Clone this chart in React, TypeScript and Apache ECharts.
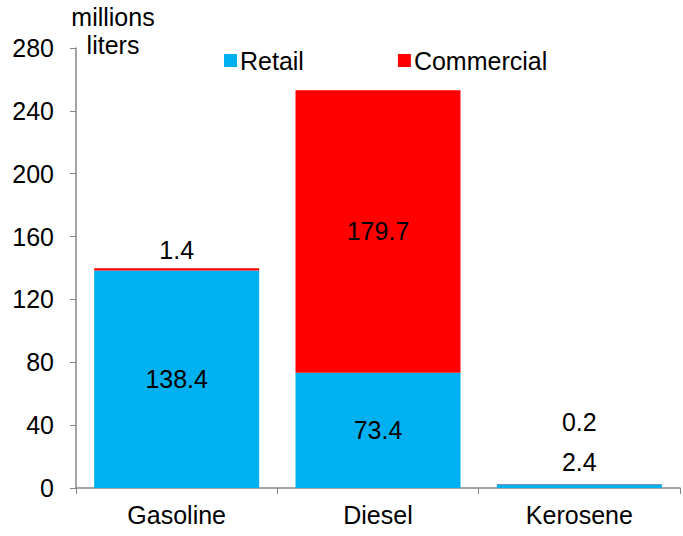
import React, { useEffect, useRef } from "react";
import * as echarts from "echarts";

const categories = ["Gasoline", "Diesel", "Kerosene"];
const retail = [138.4, 73.4, 2.4];
const commercial = [1.4, 179.7, 0.2];
const yTicks = { min: 0, max: 280, interval: 40 };
const yAxisTitle = "millions\nliters";

const FONT = "'Liberation Sans', Arial, sans-serif";
const FS = 25;

export default function App() {
  const ref = useRef<HTMLDivElement>(null);
  useEffect(() => {
    if (!ref.current) return;
    const chart = echarts.init(ref.current, null, { renderer: "svg" });
    const retailLabelPos = ["inside", "inside", "top"];
    const retailLabelDist = [5, 5, 10];
    const commLabelPos = ["top", "inside", "top"];
    const commLabelDist = [6, 5, 49];
    chart.setOption({
      animation: false,
      textStyle: { fontFamily: FONT },
      title: {
        text: yAxisTitle,
        left: 113,
        top: 3,
        padding: 0,
        textAlign: "center",
        textStyle: {
          fontSize: FS,
          fontWeight: "normal",
          color: "#000",
          fontFamily: FONT,
          lineHeight: 28,
          align: "center",
        },
      },
      grid: { left: 76, right: 3, top: 48, bottom: 48, containLabel: false, outerBoundsMode: "none" },
      legend: {
        left: 219,
        top: 43,
        itemWidth: 13,
        itemHeight: 13,
        itemGap: 94,
        icon: "rect",
        textStyle: { fontSize: FS, color: "#000", fontFamily: FONT, padding: [0, 0, 0, -2] },
        data: ["Retail", "Commercial"],
      },
      xAxis: {
        type: "category",
        data: categories,
        axisLine: { lineStyle: { color: "#868686", width: 1.5 } },
        axisTick: { show: true, length: 6, lineStyle: { color: "#868686" } },
        axisLabel: { fontSize: FS, color: "#000", margin: 14, fontFamily: FONT },
      },
      yAxis: {
        type: "value",
        min: yTicks.min,
        max: yTicks.max,
        interval: yTicks.interval,
        splitLine: { show: false },
        axisLine: { show: true, lineStyle: { color: "#868686", width: 1.5 } },
        axisTick: { show: true, length: 6, lineStyle: { color: "#868686" } },
        axisLabel: { fontSize: FS, color: "#000", margin: 22, fontFamily: FONT },
      },
      series: [
        {
          name: "Retail",
          type: "bar",
          stack: "total",
          barWidth: 165,
          itemStyle: { color: "#00B0F0" },
          data: retail.map((v, i) => ({
            value: v,
            label: {
              show: true,
              position: retailLabelPos[i],
              distance: retailLabelDist[i],
              fontSize: FS,
              color: "#000",
              fontFamily: FONT,
            },
          })),
        },
        {
          name: "Commercial",
          type: "bar",
          stack: "total",
          barWidth: 165,
          itemStyle: { color: "#FF0000" },
          data: commercial.map((v, i) => ({
            value: v,
            label: {
              show: true,
              position: commLabelPos[i],
              distance: commLabelDist[i],
              fontSize: FS,
              color: "#000",
              fontFamily: FONT,
            },
          })),
        },
      ],
    });
    return () => chart.dispose();
  }, []);
  return (
    <div
      ref={ref}
      style={{ position: "absolute", left: 0, top: 0, width: 683, height: 536 }}
    />
  );
}
